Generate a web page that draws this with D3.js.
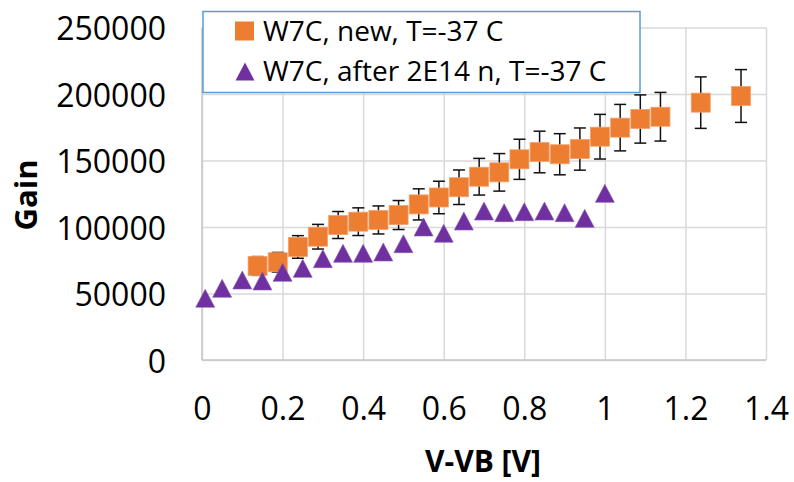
<!DOCTYPE html>
<html>
<head>
<meta charset="utf-8">
<script src="https://cdn.jsdelivr.net/npm/d3@7"></script>
<style>
  html, body { margin: 0; padding: 0; background: #fff; }
  svg { display: block; font-family: "Open Sans", "Liberation Sans", sans-serif; }
</style>
</head>
<body>
<svg id="chart" width="794" height="482"></svg>
<script>
// Gain vs. over-voltage for sensor W7C at T = -37 C
const newVolts = [0.138, 0.188, 0.238, 0.288, 0.338, 0.388, 0.438, 0.488, 0.538, 0.588,
                  0.638, 0.688, 0.738, 0.788, 0.838, 0.888, 0.938, 0.988, 1.038, 1.088,
                  1.138, 1.238, 1.338];
const newGain  = [70700, 73500, 85000, 92700, 101500, 104000, 105300, 109000, 117000, 122200,
                  129900, 137800, 141100, 150900, 156400, 154700, 158600, 167900, 174700, 181200,
                  182900, 193500, 198500];
const newErrFraction = 0.10;   // percentage error bars (10 %)

const irrVolts = [0.008, 0.05, 0.1, 0.15, 0.2, 0.25, 0.3, 0.35, 0.4, 0.45, 0.5,
                  0.55, 0.6, 0.65, 0.7, 0.75, 0.8, 0.85, 0.9, 0.95, 1.0];
const irrGain  = [46400, 53900, 60150, 59400, 65900, 68900, 76200, 80200, 80200, 81200, 87450,
                  100000, 95250, 104500, 112000, 110800, 111500, 112000, 110800, 106500, 125300];

const xTicks = [0, 0.2, 0.4, 0.6, 0.8, 1, 1.2, 1.4];
const yTicks = [0, 50000, 100000, 150000, 200000, 250000];
const seriesNames = ["W7C, new, T=-37 C", "W7C, after 2E14 n, T=-37 C"];
const axisTitles = { x: "V-VB [V]", y: "Gain" };

const ORANGE = "#ED7D31", PURPLE = "#7030A0";

const svg = d3.select("#chart");
const plot = { left: 202, right: 766, top: 27.5, bottom: 360 };

const x = d3.scaleLinear().domain([0, 1.4]).range([plot.left, plot.right]);
const y = d3.scaleLinear().domain([0, 250000]).range([plot.bottom, plot.top]);

// grid lines
const gx = svg.append("g")
  .attr("transform", `translate(0,${plot.bottom})`)
  .call(d3.axisBottom(x).tickValues(xTicks).tickSize(-(plot.bottom - plot.top)).tickFormat(""));
const gy = svg.append("g")
  .attr("transform", `translate(${plot.left},0)`)
  .call(d3.axisLeft(y).tickValues(yTicks).tickSize(-(plot.right - plot.left)).tickFormat(""));
[gx, gy].forEach(g => {
  g.select(".domain").remove();
  g.selectAll(".tick line").attr("stroke", "#D9D9D9").attr("stroke-width", 1.5);
});

// axis lines
svg.append("line").attr("x1", plot.left).attr("x2", plot.left)
  .attr("y1", plot.top).attr("y2", plot.bottom)
  .attr("stroke", "#C6C6C6").attr("stroke-width", 1.5);
svg.append("line").attr("x1", plot.left).attr("x2", plot.right)
  .attr("y1", plot.bottom).attr("y2", plot.bottom)
  .attr("stroke", "#C6C6C6").attr("stroke-width", 1.5);

// tick labels
const lx = svg.append("g")
  .attr("transform", `translate(0,${plot.bottom})`)
  .call(d3.axisBottom(x).tickValues(xTicks).tickSize(0).tickPadding(37).tickFormat(d3.format("~g")));
const ly = svg.append("g")
  .attr("transform", `translate(${plot.left},0)`)
  .call(d3.axisLeft(y).tickValues(yTicks).tickSize(0).tickPadding(36).tickFormat(d3.format("d")));
[lx, ly].forEach(g => {
  g.select(".domain").remove();
  g.selectAll("text").attr("font-size", 32).attr("fill", "#000")
    .attr("font-family", "'Open Sans', sans-serif");
});
ly.selectAll("text").attr("dy", "0.38em");

// axis titles
svg.append("text")
  .attr("x", 483).attr("y", 472)
  .attr("text-anchor", "middle")
  .attr("font-size", 30).attr("font-weight", "bold")
  .text(axisTitles.x);
svg.append("text")
  .attr("transform", "translate(37,195) rotate(-90)")
  .attr("text-anchor", "middle")
  .attr("font-size", 31).attr("font-weight", "bold")
  .text(axisTitles.y);

const newData = newVolts.map((v, i) => ({ v, g: newGain[i] }));
const irrData = irrVolts.map((v, i) => ({ v, g: irrGain[i] }));

// error bars for the un-irradiated series
const eb = svg.append("g").attr("stroke", "#111").attr("stroke-width", 1.5);
newData.forEach(d => {
  const lo = y(d.g * (1 - newErrFraction)), hi = y(d.g * (1 + newErrFraction)), cx = x(d.v);
  eb.append("line").attr("x1", cx).attr("x2", cx).attr("y1", lo).attr("y2", hi);
  eb.append("line").attr("x1", cx - 6).attr("x2", cx + 6).attr("y1", lo).attr("y2", lo);
  eb.append("line").attr("x1", cx - 6).attr("x2", cx + 6).attr("y1", hi).attr("y2", hi);
});

// square markers
const SQ = 19;
svg.append("g").selectAll("rect").data(newData).join("rect")
  .attr("x", d => x(d.v) - SQ / 2).attr("y", d => y(d.g) - SQ / 2)
  .attr("width", SQ).attr("height", SQ)
  .attr("fill", ORANGE).attr("stroke", "#F3A06A").attr("stroke-width", 0.8);

// triangle markers
const tri = (cx, cy) => `M${cx},${cy - 9} L${cx + 9.5},${cy + 9} L${cx - 9.5},${cy + 9} Z`;
svg.append("g").selectAll("path").data(irrData).join("path")
  .attr("d", d => tri(x(d.v), y(d.g)))
  .attr("fill", PURPLE).attr("stroke", "#8A5AB5").attr("stroke-width", 0.6);

// legend
const lg = svg.append("g");
lg.append("rect").attr("x", 203).attr("y", 11.5).attr("width", 437).attr("height", 81)
  .attr("fill", "#fff").attr("stroke", "#5B9BD5").attr("stroke-width", 1.5);
lg.append("rect").attr("x", 235).attr("y", 21.5).attr("width", SQ).attr("height", SQ)
  .attr("fill", ORANGE);
lg.append("path").attr("d", tri(245, 71.5)).attr("fill", PURPLE);
lg.selectAll("text").data(seriesNames).join("text")
  .attr("x", 263).attr("y", (d, i) => 41 + i * 40)
  .attr("font-size", 28).attr("fill", "#000")
  .text(d => d);
</script>
</body>
</html>
